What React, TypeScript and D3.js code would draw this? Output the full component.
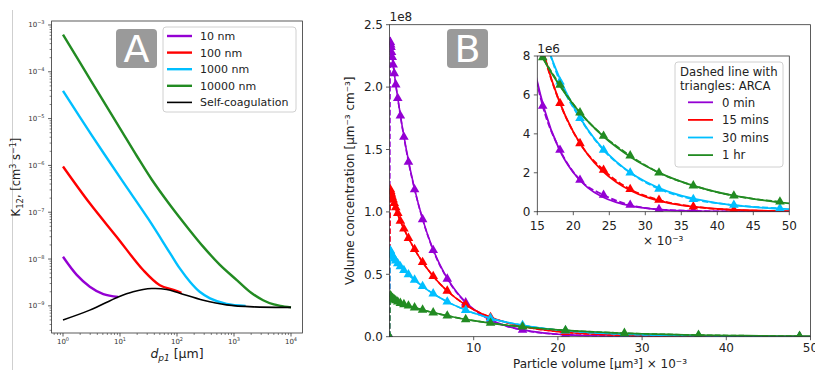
import { useEffect, useRef } from "react";
import * as d3 from "d3";

// ---------- panel A: coagulation kernel K12 vs dp1 (µm) ----------
const kernelNames = ["10 nm", "100 nm", "1000 nm", "10000 nm", "Self-coagulation"];
const kernelColors = ["#9400d3", "#ff0000", "#00bfff", "#228b22", "#000000"];

const dp10nm = [1, 1.74, 2.95, 5.1, 9.3];
const k10nm = [1.12e-8, 4.6e-9, 2.57e-9, 1.78e-9, 1.55e-9];
const dp100nm = [1, 2.95, 8.7, 25.7, 50, 87, 120];
const k100nm = [9.5e-7, 1.55e-7, 3.0e-8, 5.75e-9, 2.75e-9, 2.19e-9, 1.9e-9];
const dp1000nm = [1, 3.16, 10.7, 31.6, 76, 112, 170, 250, 380, 740, 1600];
const k1000nm = [3.9e-5, 4.5e-6, 4.9e-7, 7.1e-8, 1.32e-8, 6.3e-9, 3.24e-9, 2.0e-9, 1.45e-9, 1.1e-9, 1.0e-9];
const dp10000nm = [1, 3.16, 10, 20, 36, 76, 160, 290, 560, 1120, 2000, 3240, 5000, 6500, 10000];
const k10000nm = [6.2e-4, 6.2e-5, 6.2e-6, 1.55e-6, 5.0e-7, 1.41e-7, 4.4e-8, 1.82e-8, 7.6e-9, 3.55e-9, 1.9e-9, 1.32e-9, 1.07e-9, 1.0e-9, 9.3e-10];
const dpSelf = [1, 2.95, 9.3, 17, 36, 66, 112, 290, 740, 2200, 10000];
const kSelf = [5.0e-10, 8.1e-10, 1.55e-9, 2.0e-9, 2.34e-9, 2.24e-9, 1.86e-9, 1.32e-9, 1.05e-9, 9.5e-10, 9.3e-10];

// ---------- panel B: volume concentration (x1e6 µm-3 cm-3) vs particle volume (x1e-3 µm3) ----------
const timeNames = ["0 min", "15 mins", "30 mins", "1 hr"];
const timeColors = ["#9400d3", "#ff0000", "#00bfff", "#228b22"];

// solid lines (model)
const modelVolume = [0.05, 0.5, 1, 2, 3, 4, 5, 6, 7, 8, 9, 10, 12, 14, 16, 18, 20, 22, 24, 26, 28, 30, 33, 36, 40, 44, 48, 50];
const model0min = [240, 214.5, 190.4, 149.9, 117.9, 92.8, 73.0, 57.5, 45.2, 35.6, 28.0, 22.0, 13.65, 8.45, 5.24, 3.24, 2.01, 1.24, 0.77, 0.48, 0.3, 0.18, 0.085, 0.042, 0.016, 0.006, 0.002, 0.0014];
const model15min = [119, 107, 97.3, 82.4, 69.8, 59.0, 50.0, 42.3, 35.8, 30.3, 25.7, 21.7, 15.6, 11.1, 8.0, 5.72, 4.1, 2.94, 2.11, 1.51, 1.08, 0.77, 0.47, 0.285, 0.147, 0.075, 0.039, 0.028];
const model30min = [69.5, 62.5, 58.2, 51.4, 45.3, 40.0, 35.3, 31.2, 27.5, 24.3, 21.4, 18.9, 14.7, 11.5, 8.93, 6.95, 5.42, 4.22, 3.28, 2.56, 1.99, 1.55, 1.06, 0.73, 0.445, 0.27, 0.165, 0.128];
const model1hr = [33.5, 29.5, 27.6, 25.3, 23.3, 21.4, 19.6, 18.1, 16.6, 15.2, 14.0, 12.9, 10.9, 9.16, 7.74, 6.53, 5.51, 4.65, 3.93, 3.32, 2.8, 2.36, 1.83, 1.42, 1.01, 0.72, 0.51, 0.43];

// dashed lines with triangles (ARCA), main axes
const arcaVolume = [0, 0.1, 0.14, 0.18, 0.24, 0.32, 0.43, 0.56, 0.74, 0.98, 1.29, 1.71, 2.25, 2.98, 3.93, 5.19, 6.86, 9.05, 12.0, 15.8, 20.9, 27.9, 36.7, 48.7];
const arca0min = [0, 236, 234, 232, 228, 224, 218, 211, 202, 191, 177, 160, 140, 118, 94, 69.2, 46.3, 27.3, 13.4, 5.4, 1.6, 0.34, 0.04, 0.003];
const arca15min = [0, 118, 116.5, 115.2, 113.7, 112, 109.8, 107, 103.5, 99, 92.7, 86.5, 79, 70, 59.7, 48.4, 36.7, 25.5, 15.6, 8.3, 3.5, 1.15, 0.26, 0.03];
const arca30min = [0, 69, 68, 67, 66, 65, 63.8, 62.5, 60.8, 58.7, 56.2, 53.3, 49.8, 45.5, 40.4, 34.5, 28, 21.3, 14.7, 9.2, 4.8, 2.0, 0.64, 0.17];
const arca1hr = [0, 33, 32.5, 32, 31.5, 31, 30.4, 29.8, 29, 28, 26.9, 25.9, 24.8, 23.3, 21.5, 19.3, 16.8, 13.9, 10.9, 7.9, 5.1, 2.88, 1.34, 0.51];

// ARCA points shown in the zoomed inset
const insetVolume = [13.7, 15.75, 18.15, 20.93, 24.2, 27.9, 31.9, 36.67, 42.3, 48.7];
const inset0min = [8.9, 5.43, 3.17, 1.63, 0.86, 0.34, 0.12, 0.04, 0.01, 0.003];
const inset15min = [11.7, 8.3, 5.57, 3.51, 2.14, 1.15, 0.6, 0.26, 0.09, 0.03];
const inset30min = [11.9, 9.3, 6.68, 4.8, 3.17, 2.0, 1.17, 0.64, 0.34, 0.17];
const inset1hr = [9.4, 7.93, 6.51, 5.09, 3.89, 2.88, 2.0, 1.34, 0.82, 0.51];

const FONT = "DejaVu Sans, sans-serif";
const INK = "#333";

const App = () => {
  const svgRef = useRef<SVGSVGElement>(null);

  useEffect(() => {
    const svg = d3.select(svgRef.current);
    svg.selectAll("*").remove();
    svg.attr("font-family", FONT);

    const zip = (xs: number[], ys: number[]) => xs.map((x, i) => [x, ys[i]] as [number, number]);

    // faint page border on the left
    svg.append("line").attr("x1", 12.5).attr("x2", 12.5).attr("y1", 10).attr("y2", 370)
      .attr("stroke", "#cfcfcf").attr("stroke-width", 1);

    // ================= panel A =================
    const xA = d3.scaleLog().domain([10 ** -0.2, 10 ** 4.2]).range([51.6, 302.4]);
    const yA = d3.scaleLog().domain([10 ** -9.58, 10 ** -2.915]).range([333, 21]);
    const gA = svg.append("g");

    const isMajor = (v: number) => Math.abs(Math.log10(v) - Math.round(Math.log10(v))) < 1e-6;

    // x ticks
    xA.ticks().forEach((v) => {
      const x = xA(v);
      const major = isMajor(v);
      gA.append("line").attr("x1", x).attr("x2", x).attr("y1", 333).attr("y2", 333 + (major ? 3.5 : 2))
        .attr("stroke", INK).attr("stroke-width", major ? 0.8 : 0.6);
      if (major) {
        const t = gA.append("text").attr("x", x).attr("y", 344).attr("text-anchor", "middle")
          .attr("font-size", 7).attr("fill", INK);
        t.append("tspan").text("10");
        t.append("tspan").attr("dy", -3).attr("font-size", 5).text(String(Math.round(Math.log10(v))));
      }
    });
    // y ticks
    yA.ticks().forEach((v) => {
      const y = yA(v);
      const major = isMajor(v);
      gA.append("line").attr("x1", 51.6).attr("x2", 51.6 - (major ? 3.5 : 2)).attr("y1", y).attr("y2", y)
        .attr("stroke", INK).attr("stroke-width", major ? 0.8 : 0.6);
      if (major) {
        const t = gA.append("text").attr("x", 44.5).attr("y", y + 2.5).attr("text-anchor", "end")
          .attr("font-size", 7).attr("fill", INK);
        t.append("tspan").text("10");
        t.append("tspan").attr("dy", -3).attr("font-size", 5)
          .text("\u2212" + String(-Math.round(Math.log10(v))));
      }
    });

    const lineA = d3.line<[number, number]>().x((d) => xA(d[0])).y((d) => yA(d[1]))
      .curve(d3.curveCatmullRom.alpha(0.5));
    const kernelData = [
      zip(dp10nm, k10nm), zip(dp100nm, k100nm), zip(dp1000nm, k1000nm), zip(dp10000nm, k10000nm), zip(dpSelf, kSelf),
    ];
    kernelData.forEach((pts, i) => {
      gA.append("path").attr("d", lineA(pts)).attr("fill", "none")
        .attr("stroke", kernelColors[i]).attr("stroke-width", i === 4 ? 1.6 : 2.4);
    });

    gA.append("rect").attr("x", 51.6).attr("y", 21).attr("width", 302.4 - 51.6).attr("height", 312)
      .attr("fill", "none").attr("stroke", INK).attr("stroke-width", 0.8);

    // "A" badge
    gA.append("rect").attr("x", 116).attr("y", 29).attr("width", 41).attr("height", 39).attr("rx", 4)
      .attr("fill", "#9a9a9a");
    gA.append("text").attr("x", 136.5).attr("y", 62).attr("text-anchor", "middle")
      .attr("font-size", 38).attr("fill", "#fff").text("A");

    // legend
    gA.append("rect").attr("x", 163).attr("y", 27).attr("width", 133).attr("height", 85).attr("rx", 3)
      .attr("fill", "#fff").attr("fill-opacity", 0.8).attr("stroke", "#d0d0d0");
    kernelNames.forEach((name, i) => {
      const y = 36 + i * 16.6;
      gA.append("line").attr("x1", 167).attr("x2", 192).attr("y1", y).attr("y2", y)
        .attr("stroke", kernelColors[i]).attr("stroke-width", i === 4 ? 1.6 : 2.4);
      gA.append("text").attr("x", 200).attr("y", y + 4).attr("font-size", 11).attr("fill", "#222").text(name);
    });

    // axis labels
    const xl = gA.append("text").attr("x", 177).attr("y", 358).attr("text-anchor", "middle")
      .attr("font-size", 12.5).attr("fill", "#222");
    xl.append("tspan").attr("font-style", "italic").text("d");
    xl.append("tspan").attr("font-style", "italic").attr("font-size", 9).attr("dy", 3).text("p1");
    xl.append("tspan").attr("dy", -3).text(" [\u03bcm]");

    const yl = gA.append("text").attr("transform", "translate(20,177) rotate(-90)").attr("text-anchor", "middle")
      .attr("font-size", 11.5).attr("fill", "#222");
    yl.append("tspan").text("K");
    yl.append("tspan").attr("font-size", 8.5).attr("dy", 2.5).text("12");
    yl.append("tspan").attr("dy", -2.5).text(", [cm");
    yl.append("tspan").attr("font-size", 8).attr("dy", -4).text("3");
    yl.append("tspan").attr("dy", 4).text(" s");
    yl.append("tspan").attr("font-size", 8).attr("dy", -4).text("\u22121");
    yl.append("tspan").attr("dy", 4).text("]");

    // ================= panel B =================
    const L = 389.5, R = 810.5, T = 24.7, B = 336.7;
    const xB = d3.scaleLinear().domain([0, 50]).range([L, R]);
    const yB = d3.scaleLinear().domain([0, 250]).range([B, T]);
    const gB = svg.append("g");

    svg.append("defs").call((d) => {
      d.append("clipPath").attr("id", "clipB").append("rect")
        .attr("x", L).attr("y", T).attr("width", R - L).attr("height", B - T);
      d.append("clipPath").attr("id", "clipIn").append("rect")
        .attr("x", 537.3).attr("y", 56).attr("width", 789.3 - 537.3).attr("height", 211.7 - 56);
    });

    const modelSeries = [model0min, model15min, model30min, model1hr];
    const arcaSeries = [arca0min, arca15min, arca30min, arca1hr];
    const insetSeries = [inset0min, inset15min, inset30min, inset1hr];

    const lineB = d3.line<[number, number]>().x((d) => xB(d[0])).y((d) => yB(d[1])).curve(d3.curveMonotoneX);
    const tri = d3.symbol().type(d3.symbolTriangle).size(40);

    const plotB = gB.append("g").attr("clip-path", "url(#clipB)");
    timeColors.forEach((c, i) => {
      plotB.append("path").attr("d", lineB(zip(modelVolume, modelSeries[i]))).attr("fill", "none")
        .attr("stroke", c).attr("stroke-width", 1.6);
      const pts = zip(arcaVolume, arcaSeries[i]);
      plotB.append("path").attr("d", lineB(pts)).attr("fill", "none")
        .attr("stroke", c).attr("stroke-width", 1.6).attr("stroke-dasharray", "5.5,2.4");
      plotB.selectAll(null).data(pts).enter().append("path")
        .attr("d", tri()).attr("fill", c)
        .attr("transform", (d) => `translate(${xB(d[0])},${yB(d[1])})`);
    });

    gB.append("rect").attr("x", L).attr("y", T).attr("width", R - L).attr("height", B - T)
      .attr("fill", "none").attr("stroke", INK).attr("stroke-width", 0.8);

    [10, 20, 30, 40, 50].forEach((v) => {
      gB.append("line").attr("x1", xB(v)).attr("x2", xB(v)).attr("y1", B).attr("y2", B + 3.5)
        .attr("stroke", INK).attr("stroke-width", 0.8);
      gB.append("text").attr("x", xB(v)).attr("y", B + 15).attr("text-anchor", "middle")
        .attr("font-size", 12).attr("fill", "#222").text(String(v));
    });
    [0, 50, 100, 150, 200, 250].forEach((v) => {
      gB.append("line").attr("x1", L).attr("x2", L - 3.5).attr("y1", yB(v)).attr("y2", yB(v))
        .attr("stroke", INK).attr("stroke-width", 0.8);
      gB.append("text").attr("x", L - 6.5).attr("y", yB(v) + 4.3).attr("text-anchor", "end")
        .attr("font-size", 12).attr("fill", "#222").text((v / 100).toFixed(1));
    });
    gB.append("text").attr("x", L).attr("y", 21).attr("font-size", 12).attr("fill", "#222").text("1e8");
    gB.append("text").attr("x", 600).attr("y", 368).attr("text-anchor", "middle")
      .attr("font-size", 12).attr("fill", "#222").text("Particle volume [\u03bcm\u00b3] \u00d7 10\u207b\u00b3");
    gB.append("text").attr("transform", "translate(354,180.7) rotate(-90)").attr("text-anchor", "middle")
      .attr("font-size", 12).attr("fill", "#222").text("Volume concentration [\u03bcm\u207b\u00b3 cm\u207b\u00b3]");

    // "B" badge
    gB.append("rect").attr("x", 447).attr("y", 29).attr("width", 41).attr("height", 39).attr("rx", 4)
      .attr("fill", "#9a9a9a");
    gB.append("text").attr("x", 467.5).attr("y", 62).attr("text-anchor", "middle")
      .attr("font-size", 38).attr("fill", "#fff").text("B");

    // ---------- inset ----------
    const xI = d3.scaleLinear().domain([15, 50]).range([537.3, 789.3]);
    const yI = d3.scaleLinear().domain([0, 8]).range([211.7, 56]);
    const gI = svg.append("g");
    gI.append("rect").attr("x", 537.3).attr("y", 56).attr("width", 789.3 - 537.3).attr("height", 211.7 - 56)
      .attr("fill", "#fff");
    const lineI = d3.line<[number, number]>().x((d) => xI(d[0])).y((d) => yI(d[1])).curve(d3.curveMonotoneX);
    const plotI = gI.append("g").attr("clip-path", "url(#clipIn)");
    timeColors.forEach((c, i) => {
      plotI.append("path").attr("d", lineI(zip(modelVolume, modelSeries[i]))).attr("fill", "none")
        .attr("stroke", c).attr("stroke-width", 1.8);
      const pts = zip(insetVolume, insetSeries[i]);
      plotI.append("path").attr("d", lineI(pts)).attr("fill", "none")
        .attr("stroke", c).attr("stroke-width", 1.8).attr("stroke-dasharray", "6,2.6");
      plotI.selectAll(null).data(pts).enter().append("path")
        .attr("d", tri()).attr("fill", c)
        .attr("transform", (d) => `translate(${xI(d[0])},${yI(d[1])})`);
    });
    gI.append("rect").attr("x", 537.3).attr("y", 56).attr("width", 789.3 - 537.3).attr("height", 211.7 - 56)
      .attr("fill", "none").attr("stroke", INK).attr("stroke-width", 0.8);
    d3.range(15, 51, 5).forEach((v) => {
      gI.append("line").attr("x1", xI(v)).attr("x2", xI(v)).attr("y1", 211.7).attr("y2", 215.2)
        .attr("stroke", INK).attr("stroke-width", 0.8);
      gI.append("text").attr("x", xI(v)).attr("y", 229.5).attr("text-anchor", "middle")
        .attr("font-size", 12).attr("fill", "#222").text(String(v));
    });
    [0, 2, 4, 6, 8].forEach((v) => {
      gI.append("line").attr("x1", 537.3).attr("x2", 533.8).attr("y1", yI(v)).attr("y2", yI(v))
        .attr("stroke", INK).attr("stroke-width", 0.8);
      gI.append("text").attr("x", 530.5).attr("y", yI(v) + 4.3).attr("text-anchor", "end")
        .attr("font-size", 12).attr("fill", "#222").text(String(v));
    });
    gI.append("text").attr("x", 537.3).attr("y", 52.5).attr("font-size", 12).attr("fill", "#222").text("1e6");
    gI.append("text").attr("x", 643).attr("y", 245).attr("font-size", 12).attr("fill", "#222")
      .text("\u00d7 10\u207b\u00b3");

    // inset legend
    gI.append("rect").attr("x", 675).attr("y", 62).attr("width", 108).attr("height", 105).attr("rx", 3)
      .attr("fill", "#fff").attr("fill-opacity", 0.8).attr("stroke", "#d0d0d0");
    gI.append("text").attr("x", 680).attr("y", 76).attr("font-size", 11.7).attr("fill", "#222").text("Dashed line with");
    gI.append("text").attr("x", 680).attr("y", 89.5).attr("font-size", 11.7).attr("fill", "#222").text("triangles: ARCA");
    timeNames.forEach((name, i) => {
      const y = 102.3 + i * 17.6;
      gI.append("line").attr("x1", 688).attr("x2", 713).attr("y1", y).attr("y2", y)
        .attr("stroke", timeColors[i]).attr("stroke-width", 1.8);
      gI.append("text").attr("x", 722).attr("y", y + 4.2).attr("font-size", 11.7).attr("fill", "#222").text(name);
    });
  }, []);

  return (
    <svg
      ref={svgRef}
      width={815}
      height={370}
      style={{ position: "absolute", left: 0, top: 0, background: "#fff" }}
    />
  );
};

export default App;
